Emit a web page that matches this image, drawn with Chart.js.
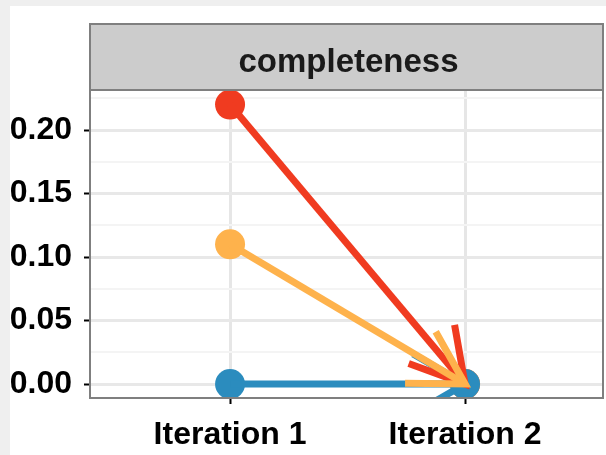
<!DOCTYPE html>
<html>
<head>
<meta charset="utf-8">
<script src="https://cdn.jsdelivr.net/npm/chart.js@4"></script>
<style>
  html, body { margin: 0; padding: 0; background: #efefef; }
  #wrap { position: relative; width: 606px; height: 455px; }
  #paper { position: absolute; left: 10px; top: 6px; right: 0; bottom: 0; background: #fff; }
  #chart { position: absolute; left: 0; top: 0; }
</style>
</head>
<body>
<div id="wrap"><div id="paper"></div><canvas id="chart" width="606" height="455"></canvas></div>
<script>
const panelTitle = 'completeness';
const categories = ['Iteration 1', 'Iteration 2'];
const seriesColors = ['#f03b20', '#feb24c', '#2b8cbe'];
const seriesRed = [0.22, 0.0];
const seriesOrange = [0.11, 0.0];
const seriesBlue = [0.0, 0.0];
const yTicks = [0, 0.05, 0.10, 0.15, 0.20];
const yTickLabels = ['0.00', '0.05', '0.10', '0.15', '0.20'];
const yMinorTicks = [0.025, 0.075, 0.125, 0.175, 0.225];

const allSeries = [seriesRed, seriesOrange, seriesBlue];
const toPoints = vals => vals.map((v, i) => ({ x: i, y: v }));
const isMajor = v => yTicks.indexOf(v) !== -1;

// points go underneath, arrows on top (blue, then red, then orange)
const datasets = [];
allSeries.forEach((vals, i) => {
  datasets.push({
    data: toPoints(vals),
    showLine: false,
    pointRadius: 15,
    pointBorderWidth: 0,
    pointBackgroundColor: seriesColors[i],
    order: 20 - i
  });
});
const lineOrder = [2, 1, 3];
allSeries.forEach((vals, i) => {
  datasets.push({
    data: toPoints(vals),
    showLine: true,
    arrow: true,
    borderColor: seriesColors[i],
    borderWidth: 7,
    borderCapStyle: 'butt',
    pointRadius: 0,
    order: lineOrder[i]
  });
});

const arrowHeads = {
  id: 'arrowHeads',
  afterDatasetDraw(chart, args) {
    const ds = chart.data.datasets[args.index];
    if (!ds.arrow) return;
    const pts = args.meta.data;
    const p0 = pts[0], p1 = pts[1];
    const ang = Math.atan2(p1.y - p0.y, p1.x - p0.x);
    const len = 60;
    const ctx = chart.ctx;
    const a = chart.chartArea;
    ctx.save();
    ctx.beginPath();
    ctx.rect(a.left, a.top, a.right - a.left, a.bottom - a.top);
    ctx.clip();
    ctx.strokeStyle = ds.borderColor;
    ctx.lineWidth = 7;
    ctx.lineCap = 'butt';
    ctx.lineJoin = 'miter';
    ctx.beginPath();
    ctx.moveTo(p1.x + len * Math.cos(ang + Math.PI - Math.PI / 6), p1.y + len * Math.sin(ang + Math.PI - Math.PI / 6));
    ctx.lineTo(p1.x, p1.y);
    ctx.lineTo(p1.x + len * Math.cos(ang + Math.PI + Math.PI / 6), p1.y + len * Math.sin(ang + Math.PI + Math.PI / 6));
    ctx.stroke();
    ctx.restore();
  }
};

const panelFrame = {
  id: 'panelFrame',
  afterDraw(chart) {
    const ctx = chart.ctx;
    const a = chart.chartArea;
    ctx.save();
    // strip
    ctx.fillStyle = '#cccccc';
    ctx.fillRect(a.left, 24, a.right - a.left, a.top - 24);
    ctx.strokeStyle = '#7f7f7f';
    ctx.lineWidth = 2;
    ctx.strokeRect(a.left, 24, a.right - a.left, a.top - 24);
    ctx.fillStyle = '#1a1a1a';
    ctx.font = 'bold 33px "Liberation Sans", Arial, sans-serif';
    ctx.textAlign = 'center';
    ctx.textBaseline = 'alphabetic';
    ctx.fillText(panelTitle, (a.left + a.right) / 2 + 2, 72);
    // panel border
    ctx.strokeRect(a.left, a.top, a.right - a.left, a.bottom - a.top);
    ctx.restore();
  }
};

const tickFont = { family: '"Liberation Sans", Arial, sans-serif', size: 32, weight: 'bold' };

new Chart(document.getElementById('chart'), {
  type: 'scatter',
  data: { datasets: datasets },
  options: {
    responsive: false,
    animation: false,
    devicePixelRatio: 1,
    layout: { autoPadding: false, padding: { top: 90, right: 3, left: 0, bottom: 0 } },
    plugins: { legend: { display: false }, tooltip: { enabled: false } },
    scales: {
      x: {
        type: 'linear',
        min: -0.596,
        max: 1.587,
        afterBuildTicks: s => { s.ticks = categories.map((c, i) => ({ value: i })); },
        afterFit: s => { s.height = 57; s.paddingLeft = 0; s.paddingRight = 0; },
        border: { display: false },
        grid: { color: '#e6e6e6', lineWidth: 3, tickColor: '#000', tickLength: 6, tickWidth: 2 },
        ticks: {
          font: tickFont, color: '#000', padding: 12,
          maxRotation: 0, autoSkip: false,
          callback: v => categories[v]
        }
      },
      y: {
        min: -0.011,
        max: 0.2315,
        afterBuildTicks: s => {
          s.ticks = yTicks.concat(yMinorTicks).sort((p, q) => p - q).map(v => ({ value: v }));
        },
        afterFit: s => { s.width = 90; s.paddingTop = 0; s.paddingBottom = 0; },
        border: { display: false },
        grid: {
          color: c => isMajor(c.tick.value) ? '#e8e8e8' : '#f4f4f4',
          lineWidth: c => isMajor(c.tick.value) ? 3 : 2,
          tickColor: c => isMajor(c.tick.value) ? '#000' : 'rgba(0,0,0,0)',
          tickLength: 6,
          tickWidth: 2
        },
        ticks: {
          font: tickFont, color: '#000', padding: 12, autoSkip: false,
          callback: v => { const k = yTicks.indexOf(v); return k === -1 ? '' : yTickLabels[k]; }
        }
      }
    }
  },
  plugins: [arrowHeads, panelFrame]
});
</script>
</body>
</html>
